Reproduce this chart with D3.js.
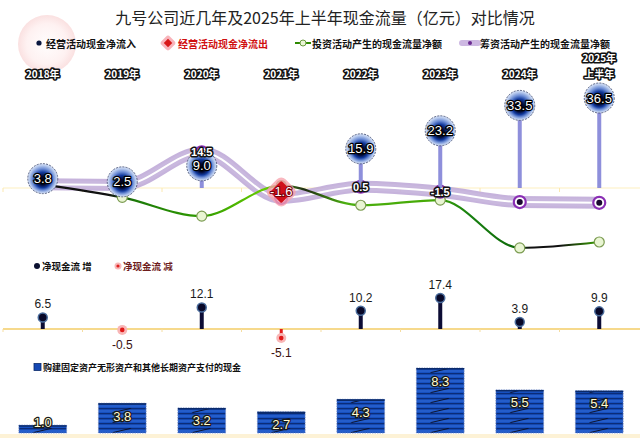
<!DOCTYPE html>
<html><head><meta charset="utf-8">
<script src="https://cdn.jsdelivr.net/npm/d3@7"></script>
<style>body{margin:0;background:#fff} svg{display:block}</style>
</head><body>
<svg id="c" width="640" height="438"></svg>
<script>
// ---------- data ----------
const years = ["2018年","2019年","2020年","2021年","2022年","2023年","2024年","2025年上半年"];
const yearLines = [["2018年"],["2019年"],["2020年"],["2021年"],["2022年"],["2023年"],["2024年"],["2025年","上半年"]];
const opCash  = [3.8, 2.5, 9.0, -1.6, 15.9, 23.2, 33.5, 36.5];   // 经营活动现金流量净额
const invCash = [1.5, -3.8, -11.4, 1.0, -7.0, -4.9, -24.3, -21.9]; // 投资活动
const finCash = [1.5, 1.2, 14.5, -4.0, 0.5, -1.5, -5.7, -6.0];    // 筹资活动
const finLabelIdx = [2, 4, 5];
const netCash = [6.5, -0.5, 12.1, -5.1, 10.2, 17.4, 3.9, 9.9];   // 净现金流
const capex   = [1.0, 3.8, 3.2, 2.7, 4.3, 8.3, 5.5, 5.4];        // 购建固定资产...
const title = "九号公司近几年及2025年上半年现金流量（亿元）对比情况";
const legendTop = ["经营活动现金净流入","经营活动现金净流出","投资活动产生的现金流量净额","筹资活动产生的现金流量净额"];
const legendMid = ["净现金流 增","净现金流 减"];
const legendBot = "购建固定资产无形资产和其他长期资产支付的现金";

// ---------- setup ----------
const svg = d3.select("#c");
const W = 640;
const x = d3.scaleBand().domain(years).range([3, 639]);
const cx = d => x(d) + x.bandwidth() / 2;
const yTop = d3.scaleLinear().domain([0, 36.5]).range([188, 98]);
const yMid = d3.scaleLinear().domain([0, 17.4]).range([329, 298]);
const yBot = d3.scaleLinear().domain([0, 8.3]).range([433, 368]);
const numFont = "'Liberation Sans', 'DejaVu Sans', sans-serif";
const cjkFont = "'Noto Sans CJK SC', 'Noto Sans', sans-serif";

const defs = svg.append("defs");
// op circle gradient
const rg = defs.append("radialGradient").attr("id","opGrad").attr("cx","50%").attr("cy","50%").attr("r","50%").attr("fx","50%").attr("fy","60%");
[["0%","#000006"],["28%","#020a34"],["52%","#123a9e"],["72%","#6f8fd6"],["90%","#b9cbee"],["100%","#d6e1f6"]].forEach(s=>rg.append("stop").attr("offset",s[0]).attr("stop-color",s[1]));
// deco
const dg = defs.append("radialGradient").attr("id","deco");
[["0%","#fff8f8",0.4],["70%","#fde6e6",0.55],["100%","#f7cccc",0.6]].forEach(s=>dg.append("stop").attr("offset",s[0]).attr("stop-color",s[1]).attr("stop-opacity",s[2]));
// green line gradient
const gg = defs.append("linearGradient").attr("id","invGrad").attr("gradientUnits","userSpaceOnUse")
  .attr("x1", cx(years[0])).attr("x2", cx(years[7])).attr("y1",0).attr("y2",0);
const x0 = cx(years[0]), x7 = cx(years[7]);
[[43,"#111"],[108,"#111"],[135,"#1c7a08"],[200,"#2f9a00"],[265,"#66cc00"],[284,"#4a8a20"],[305,"#1d2a12"],[345,"#4caf10"],[430,"#46aa06"],[470,"#178010"],[515,"#0f6a0a"],[530,"#111"],[560,"#111"],[599,"#3aa400"]]
  .forEach(s=>gg.append("stop").attr("offset",(s[0]-x0)/(x7-x0)).attr("stop-color",s[1]));

// ---------- deco circle ----------
svg.append("circle").attr("cx",47).attr("cy",44).attr("r",29).attr("fill","url(#deco)");

// ---------- title ----------
svg.append("text").attr("x",325).attr("y",17).attr("text-anchor","middle").attr("dominant-baseline","central")
  .attr("font-family",cjkFont).attr("font-size",16).attr("fill","#222").text(title);

// ---------- top legend ----------
const LY = 43;
const lg = svg.append("g").attr("font-family",cjkFont).attr("font-size",10).attr("font-weight","bold");
lg.append("circle").attr("cx",39).attr("cy",LY).attr("r",2.6).attr("fill","#0a1840");
lg.append("text").attr("x",46).attr("y",LY).attr("dominant-baseline","central").attr("fill","#111").text(legendTop[0]);
lg.append("rect").attr("x",168-6).attr("y",LY-6).attr("width",12).attr("height",12).attr("rx",3).attr("transform",`rotate(45,168,${LY})`).attr("fill","#f8b4bb");
lg.append("rect").attr("x",168-3).attr("y",LY-3).attr("width",6).attr("height",6).attr("transform",`rotate(45,168,${LY})`).attr("fill","#d81818");
lg.append("text").attr("x",178).attr("y",LY).attr("dominant-baseline","central").attr("fill","#d01010").text(legendTop[1]);
lg.append("line").attr("x1",295).attr("x2",311).attr("y1",LY).attr("y2",LY).attr("stroke","#2e8a00").attr("stroke-width",2);
lg.append("circle").attr("cx",303).attr("cy",LY).attr("r",3).attr("fill","#eaf6d6").attr("stroke","#6a9a40");
lg.append("text").attr("x",312).attr("y",LY).attr("dominant-baseline","central").attr("fill","#111").text(legendTop[2]);
lg.append("line").attr("x1",462).attr("x2",478).attr("y1",LY).attr("y2",LY).attr("stroke","#cdb8e2").attr("stroke-width",6).attr("stroke-linecap","round");
lg.append("circle").attr("cx",470).attr("cy",LY).attr("r",2).attr("fill","#6a2a90");
lg.append("text").attr("x",480).attr("y",LY).attr("dominant-baseline","central").attr("fill","#111").text(legendTop[3]);

// ---------- year labels ----------
years.forEach((yr,i)=>{
  const lines = yearLines[i];
  lines.forEach((t,j)=>{
    svg.append("text").attr("x",cx(yr)).attr("y",73 - (lines.length-1-j)*16).attr("text-anchor","middle").attr("dominant-baseline","central")
      .attr("font-family",cjkFont).attr("font-size",10).attr("font-weight","bold")
      .attr("fill","#fff").attr("stroke","#111").attr("stroke-width",3.2).attr("stroke-linejoin","round").attr("paint-order","stroke").text(t);
  });
});

// ---------- top panel baseline ----------
svg.append("line").attr("x1",3).attr("x2",W).attr("y1",yTop(0)).attr("y2",yTop(0)).attr("stroke","#fdf0c0").attr("stroke-width",1.2);
svg.append("g").selectAll("line").data(years).join("line")
  .attr("x1",d=>x(d)).attr("x2",d=>x(d)).attr("y1",yTop(0)).attr("y2",yTop(0)+4).attr("stroke","#fbe8b0");

// financing line
const finLine = d3.line().x((d,i)=>cx(years[i])).y(d=>yTop(d)).curve(d3.curveMonotoneX);
svg.append("path").attr("d",finLine(finCash)).attr("fill","none").attr("stroke","#bca6d6").attr("stroke-width",12).attr("stroke-opacity",0.85).attr("stroke-linecap","round");
svg.append("path").attr("d",finLine(finCash)).attr("fill","none").attr("stroke","#cbbbe0").attr("stroke-width",8).attr("stroke-opacity",0.6);
svg.append("path").attr("d",finLine(finCash)).attr("fill","none").attr("stroke","#fff").attr("stroke-width",2);

// investing line
const invLine = d3.line().x((d,i)=>cx(years[i])).y(d=>yTop(d)).curve(d3.curveMonotoneX);
svg.append("path").attr("d",invLine(invCash)).attr("fill","none").attr("stroke","url(#invGrad)").attr("stroke-width",2.2);
svg.append("g").selectAll("circle").data(invCash).join("circle")
  .attr("cx",(d,i)=>cx(years[i])).attr("cy",d=>yTop(d)).attr("r",5)
  .attr("fill",(d,i)=>opCash[i]<0?"#b89a50":"#e9f5d3").attr("stroke","#7c9c52").attr("stroke-width",1.2);

// financing points
svg.append("g").selectAll("circle").data(finCash).join("circle")
  .attr("cx",(d,i)=>cx(years[i])).attr("cy",d=>yTop(d)).attr("r",6)
  .attr("fill","#fff").attr("stroke","#8a2eb4").attr("stroke-width",2.2);
svg.append("g").selectAll("circle").data(finCash).join("circle")
  .attr("cx",(d,i)=>cx(years[i])).attr("cy",d=>yTop(d)).attr("r",3)
  .attr("fill","#1a0830");

// op stems
svg.append("g").selectAll("line").data(opCash.map((v,i)=>({v,i})).filter(d=>d.v>0)).join("line")
  .attr("x1",d=>cx(years[d.i])).attr("x2",d=>cx(years[d.i])).attr("y1",yTop(0)).attr("y2",d=>yTop(d.v))
  .attr("stroke","#8e8fdb").attr("stroke-width",4);

// op circles
const pos = opCash.map((v,i)=>({v,i})).filter(d=>d.v>0);
svg.append("g").selectAll("circle").data(pos).join("circle")
  .attr("cx",d=>cx(years[d.i])).attr("cy",d=>yTop(d.v)).attr("r",15)
  .attr("fill","url(#opGrad)").attr("stroke","#3a4468").attr("stroke-width",0.8).attr("stroke-dasharray","2,1.2");
svg.append("g").selectAll("text").data(pos).join("text")
  .attr("x",d=>cx(years[d.i])).attr("y",d=>yTop(d.v)).attr("text-anchor","middle").attr("dominant-baseline","central")
  .attr("font-family",numFont).attr("font-size",13)
  .attr("fill","#fff").attr("stroke","#000").attr("stroke-width",2.5).attr("stroke-linejoin","round").attr("paint-order","stroke")
  .text(d=>d.v.toFixed(1));

// financing labels (on top)
svg.append("g").selectAll("text").data(finLabelIdx).join("text")
  .attr("x",i=>cx(years[i])).attr("y",i=>yTop(finCash[i])).attr("text-anchor","middle").attr("dominant-baseline","central")
  .attr("font-family",numFont).attr("font-size",11).attr("font-weight","bold")
  .attr("fill","#fff").attr("stroke","#111").attr("stroke-width",3).attr("stroke-linejoin","round").attr("paint-order","stroke")
  .text(i=>finCash[i].toFixed(1));

// op negative (diamond)
const neg = opCash.map((v,i)=>({v,i})).filter(d=>d.v<0);
neg.forEach(d=>{
  const X = cx(years[d.i]), Y = yTop(d.v);
  svg.append("rect").attr("x",X-12).attr("y",Y-12).attr("width",24).attr("height",24).attr("rx",6)
    .attr("transform",`rotate(45,${X},${Y})`).attr("fill","#f7a3ad").attr("fill-opacity",0.78);
  svg.append("rect").attr("x",X-8).attr("y",Y-8).attr("width",16).attr("height",16).attr("rx",1.5)
    .attr("transform",`rotate(45,${X},${Y})`).attr("fill","#d0101a");
  svg.append("text").attr("x",X).attr("y",Y).attr("text-anchor","middle").attr("dominant-baseline","central")
    .attr("font-family",numFont).attr("font-size",13)
    .attr("fill","#fff").attr("stroke","#7a0008").attr("stroke-width",2).attr("stroke-linejoin","round").attr("paint-order","stroke")
    .text(d.v.toFixed(1));
});

// ---------- middle panel ----------
const MY = 266;
const mg = svg.append("g").attr("font-family",cjkFont).attr("font-size",9.5).attr("font-weight","bold");
mg.append("circle").attr("cx",37).attr("cy",MY).attr("r",3).attr("fill","#0b1030");
mg.append("text").attr("x",42).attr("y",MY).attr("dominant-baseline","central").attr("fill","#111").text(legendMid[0]);
mg.append("circle").attr("cx",118).attr("cy",MY).attr("r",3.5).attr("fill","#f7b8b8");
mg.append("circle").attr("cx",118).attr("cy",MY).attr("r",1.6).attr("fill","#e02020");
mg.append("text").attr("x",123).attr("y",MY).attr("dominant-baseline","central").attr("fill","#6e1c1c").text(legendMid[1]);

svg.append("line").attr("x1",3).attr("x2",W).attr("y1",yMid(0)).attr("y2",yMid(0)).attr("stroke","#f6d98c").attr("stroke-width",2.2);
svg.append("g").selectAll("line").data(years).join("line")
  .attr("x1",d=>x(d)).attr("x2",d=>x(d)).attr("y1",yMid(0)).attr("y2",yMid(0)+3).attr("stroke","#f6dda0");

const net = netCash.map((v,i)=>({v,i}));
svg.append("g").selectAll("line").data(net).join("line")
  .attr("x1",d=>cx(years[d.i])).attr("x2",d=>cx(years[d.i])).attr("y1",yMid(0)).attr("y2",d=>yMid(d.v))
  .attr("stroke",d=>d.v>0?"#0c0c34":"#e21c1c").attr("stroke-width",d=>d.v>0?4:3);
net.forEach(d=>{
  const X = cx(years[d.i]), Y = yMid(d.v);
  if (d.v>0){
    svg.append("circle").attr("cx",X).attr("cy",Y).attr("r",4.5).attr("fill","#080828").attr("stroke","#4a6c9c").attr("stroke-width",1.5);
    svg.append("text").attr("x",X).attr("y",Y-13).attr("text-anchor","middle").attr("dominant-baseline","central")
      .attr("font-family",numFont).attr("font-size",12).attr("fill","#1a1a1a").text(d.v.toFixed(1));
  } else {
    svg.append("circle").attr("cx",X).attr("cy",Y).attr("r",5).attr("fill","#f8b6b6");
    svg.append("circle").attr("cx",X).attr("cy",Y).attr("r",2.3).attr("fill","#e01818");
    svg.append("text").attr("x",X).attr("y",Y+15).attr("text-anchor","middle").attr("dominant-baseline","central")
      .attr("font-family",numFont).attr("font-size",12).attr("fill","#3a1010").text(d.v.toFixed(1));
  }
});

// ---------- bottom panel ----------
const BY = 367;
svg.append("rect").attr("x",34).attr("y",BY-3.5).attr("width",7).attr("height",7).attr("fill","#1548b4").attr("stroke","#0a2a6a").attr("stroke-width",0.8);
svg.append("text").attr("x",43).attr("y",BY).attr("dominant-baseline","central").attr("font-family",cjkFont)
  .attr("font-size",9).attr("font-weight","bold").attr("fill","#111").text(legendBot);

svg.append("rect").attr("x",0).attr("y",yBot(0)+1).attr("width",W).attr("height",5).attr("fill","#fdf2d6");

const bw = x.bandwidth()*0.6;
capex.forEach((v,i)=>{
  const X0 = cx(years[i]) - bw/2;
  const pat = defs.append("pattern").attr("id","bp"+i).attr("patternUnits","userSpaceOnUse")
    .attr("x",X0).attr("y",yBot(0)).attr("width",bw).attr("height",10);
  pat.append("rect").attr("width",bw).attr("height",10).attr("fill","#1650c0");
  pat.append("line").attr("x1",0).attr("x2",bw).attr("y1",0.6).attr("y2",0.6).attr("stroke","#0b2c78").attr("stroke-width",1.3);
  pat.append("line").attr("x1",0).attr("x2",bw).attr("y1",5.6).attr("y2",5.6).attr("stroke","#0b2c78").attr("stroke-width",1.3);
  pat.append("line").attr("x1",0).attr("x2",bw).attr("y1",3).attr("y2",3).attr("stroke","#3f76e0").attr("stroke-width",0.7);
  pat.append("line").attr("x1",0).attr("x2",bw).attr("y1",8).attr("y2",8).attr("stroke","#3f76e0").attr("stroke-width",0.7);
  pat.append("path").attr("d",`M${bw*0.3},9.6 L${bw*0.68},5.4`).attr("stroke","#0a0a18").attr("stroke-width",0.9);
});
svg.append("g").selectAll("rect").data(capex).join("rect")
  .attr("x",(d,i)=>cx(years[i])-bw/2).attr("y",d=>yBot(d)).attr("width",bw).attr("height",d=>yBot(0)-yBot(d))
  .attr("fill",(d,i)=>`url(#bp${i})`).attr("stroke","#7088c0").attr("stroke-width",0.8).attr("stroke-dasharray","1.5,1");
svg.append("g").selectAll("line").data(capex).join("line")
  .attr("x1",(d,i)=>cx(years[i])-bw/2).attr("x2",(d,i)=>cx(years[i])+bw/2).attr("y1",d=>yBot(d)+0.8).attr("y2",d=>yBot(d)+0.8)
  .attr("stroke","#0a2a6a").attr("stroke-width",1.6);
svg.append("g").selectAll("text").data(capex).join("text")
  .attr("x",(d,i)=>cx(years[i])).attr("y",d=>{const h=yBot(0)-yBot(d); return h>20? yBot(d)+13 : yBot(d)-3;})
  .attr("text-anchor","middle").attr("dominant-baseline","central")
  .attr("font-family",numFont).attr("font-size",13)
  .attr("fill","#fffbd2").attr("stroke","#1a1a1a").attr("stroke-width",2.5).attr("stroke-linejoin","round").attr("paint-order","stroke")
  .text(d=>d.toFixed(1));
</script>
</body></html>
